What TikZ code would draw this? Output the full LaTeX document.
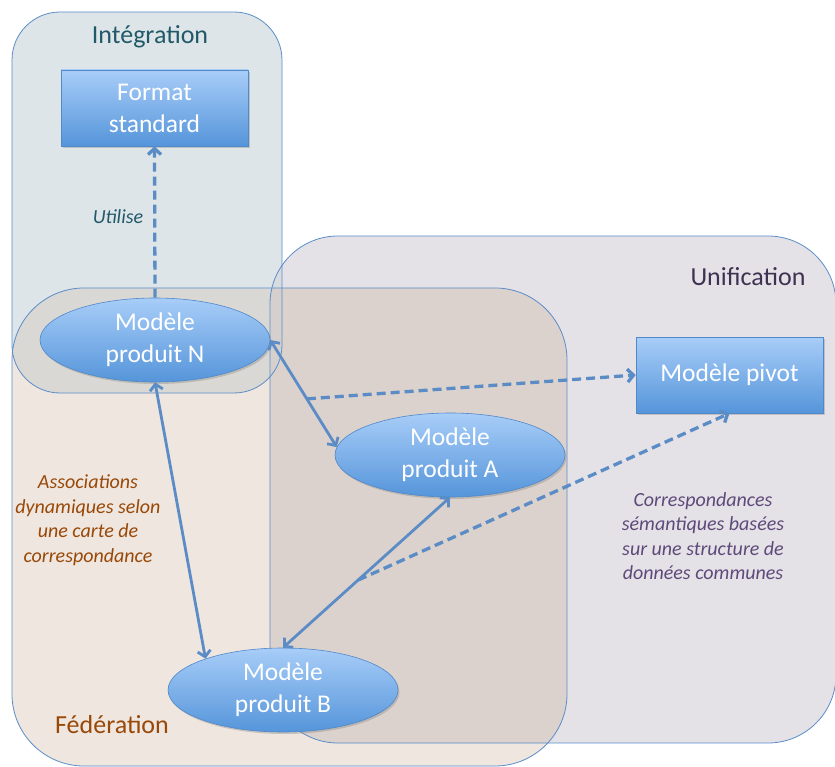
\documentclass[tikz,border=0pt]{standalone}
\usepackage{fontspec}
\setmainfont{Carlito}
\usetikzlibrary{arrows.meta,shadows,shapes.geometric}
\definecolor{intc}{HTML}{DDE5E9}
\definecolor{fedc}{HTML}{EFE6E0}
\definecolor{unic}{HTML}{E4E2E7}
\definecolor{intfed}{HTML}{D9D8D4}
\definecolor{fedunic}{HTML}{DBD2CD}
\definecolor{intunic}{HTML}{D8DBE0}
\definecolor{allc}{HTML}{D5D0CD}
\definecolor{edgec}{HTML}{5A8DC8}
\definecolor{linec}{HTML}{5B8CC6}
\definecolor{btop}{HTML}{A8CDF8}
\definecolor{bbot}{HTML}{5595DA}
\definecolor{bborder}{HTML}{5088C8}
\definecolor{tealc}{HTML}{215968}
\definecolor{brownc}{HTML}{984807}
\definecolor{purpdark}{HTML}{3F3151}
\definecolor{purpc}{HTML}{5F497A}
\tikzset{
  region/.style={draw=edgec, line width=0.8pt},
  boxnode/.style={rectangle, top color=btop, bottom color=bbot, draw=bborder, line width=0.6pt,
     minimum width=187pt, minimum height=76pt, inner sep=0pt, text=white, align=center,
     font=\fontsize{25.5}{32}\selectfont,
     drop shadow={opacity=0.35, shadow xshift=1.5pt, shadow yshift=-2pt}},
  ellnode/.style={ellipse, top color=btop, bottom color=bbot, draw=bborder, line width=0.6pt,
     minimum width=230pt, minimum height=84pt, inner sep=0pt, text=white, align=center,
     font=\fontsize{25.5}{32}\selectfont,
     drop shadow={opacity=0.35, shadow xshift=1.5pt, shadow yshift=-2pt}},
  titletext/.style={font=\fontsize{26}{30}\selectfont, inner sep=0pt},
  labeltext/.style={font=\fontsize{20}{24.5}\selectfont\itshape, align=center, inner sep=0pt},
  solidlink/.style={draw=linec, line width=2.8pt, {Straight Barb[length=6pt,width=13pt]}-{Straight Barb[length=6pt,width=13pt]}},
  dashlink/.style={draw=linec, line width=3.3pt, dash pattern=on 9pt off 5pt, -{Straight Barb[length=6pt,width=13pt]}}
}
\begin{document}
\begin{tikzpicture}[x=1pt,y=-1pt]
\useasboundingbox (0,0) rectangle (835,767);
\fill[white] (0,0) rectangle (835,767);
% region fills
\fill[intc, rounded corners=48pt] (12,12) rectangle (282,393);
\fill[fedc, rounded corners=72pt] (12,288) rectangle (567,766);
\fill[unic, rounded corners=68pt] (270,236) rectangle (836,743);
\begin{scope}
  \clip[rounded corners=48pt] (12,12) rectangle (282,393);
  \fill[intfed, rounded corners=72pt] (12,288) rectangle (567,766);
\end{scope}
\begin{scope}
  \clip[rounded corners=68pt] (270,236) rectangle (836,743);
  \fill[fedunic, rounded corners=72pt] (12,288) rectangle (567,766);
\end{scope}
\begin{scope}
  \clip[rounded corners=68pt] (270,236) rectangle (836,743);
  \fill[intunic, rounded corners=48pt] (12,12) rectangle (282,393);
\end{scope}
\begin{scope}
  \clip[rounded corners=68pt] (270,236) rectangle (836,743);
  \clip[rounded corners=48pt] (12,12) rectangle (282,393);
  \fill[allc, rounded corners=72pt] (12,288) rectangle (567,766);
\end{scope}
% outlines
\draw[region, rounded corners=48pt] (12,12) rectangle (282,393);
\draw[region, rounded corners=72pt] (12,288) rectangle (567,766);
\draw[region, rounded corners=68pt] (270,236) rectangle (836,743);
% titles
\node[titletext, text=tealc] (tint) at (150,37) {Intégration};
\node[titletext, text=purpdark] (tuni) at (748,277) {Unification};
\node[titletext, text=brownc] (tfed) at (112,725) {Fédération};
% nodes
\node[boxnode] (fmt) at (154.5,108) {Format\\standard};
\node[boxnode] (piv) at (729.5,375) {Modèle pivot};
\node[ellnode] (N) at (155,340) {Modèle\\produit N};
\node[ellnode] (A) at (450,455) {Modèle\\produit A};
\node[ellnode] (B) at (283,690) {Modèle\\produit B};
% connectors
\draw[dashlink] (N.north) -- (fmt.south);
\draw[solidlink] (N.south) -- (B.158);
\draw[solidlink] (N.east) -- (A.176) coordinate[pos=0.55] (mNA);
\draw[solidlink] (A.south) -- (B.north) coordinate[pos=0.55] (mAB);
\draw[dashlink] (mNA) -- (piv.west);
\draw[dashlink] (mAB) -- (piv.south);
% labels
\node[labeltext, text=tealc] (lut) at (118,217) {Utilise};
\node[labeltext, text=brownc] (las) at (88,520) {Associations\\dynamiques selon\\une carte de\\correspondance};
\node[labeltext, text=purpc] (lco) at (703,536) {Correspondances\\sémantiques basées\\sur une structure de\\données communes};
\end{tikzpicture}
\end{document}
